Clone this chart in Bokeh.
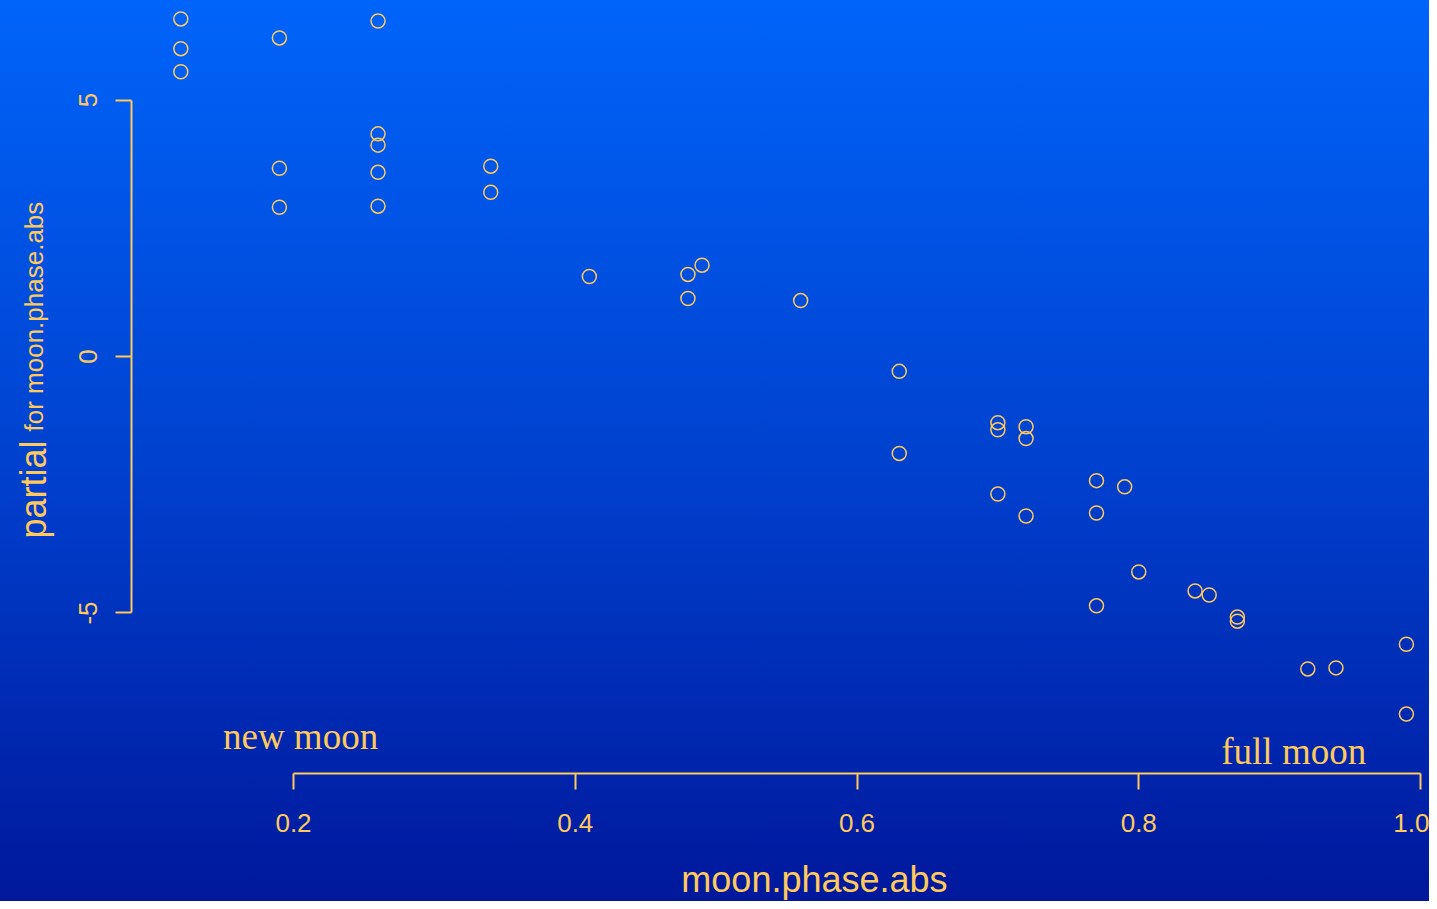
import math
from bokeh.plotting import figure
from bokeh.models import Range1d, FixedTicker, Label, InlineStyleSheet, ColumnDataSource
from bokeh.core.properties import value
from bokeh.embed import file_html
from bokeh.resources import INLINE

# ---- data ----
moon_phase_abs = [0.12, 0.12, 0.12, 0.19, 0.19, 0.19, 0.26, 0.26, 0.26, 0.26, 0.26,
                  0.34, 0.34, 0.41, 0.48, 0.48, 0.49, 0.56, 0.63, 0.63, 0.70, 0.70,
                  0.70, 0.72, 0.72, 0.72, 0.77, 0.77, 0.77, 0.79, 0.80, 0.84, 0.85,
                  0.87, 0.87, 0.92, 0.94, 0.99, 0.99]
partial = [6.58, 6.00, 5.55, 6.21, 3.67, 2.91, 6.54, 4.34, 4.12, 3.59, 2.93,
           3.71, 3.20, 1.56, 1.60, 1.13, 1.78, 1.09, -0.29, -1.89, -1.29, -1.43,
           -2.68, -1.37, -1.60, -3.11, -2.42, -3.05, -4.86, -2.54, -4.20, -4.57, -4.65,
           -5.08, -5.16, -6.09, -6.07, -5.61, -6.97]

x_ticks = [0.2, 0.4, 0.6, 0.8, 1.0]
x_tick_labels = ["0.2", "0.4", "0.6", "0.8", "1.0"]
y_ticks = [-5, 0, 5]
y_tick_labels = ["-5", "0", "5"]

note_texts = ["new moon", "full moon"]
note_x = [0.205, 0.910]
note_y = [-7.40, -7.70]

FG = "#FFC95C"
SANS = "Liberation Sans"
SERIF = "Liberation Serif"

p = figure(width=1429, height=901, output_backend="svg", toolbar_location=None,
           x_range=Range1d(-0.00799, 1.00639), y_range=Range1d(-10.624, 6.9396),
           min_border_left=0, min_border_right=0, min_border_top=0,
           min_border_bottom=0)

p.background_fill_color = None
p.border_fill_color = None
p.outline_line_color = None
p.grid.visible = False
grad = "linear-gradient(to bottom, rgb(0,100,250) 0%, rgb(0,66,208) 50%, rgb(0,24,156) 100%)"
p.styles = {"background": grad}
p.stylesheets = [InlineStyleSheet(css=":host { background: %s; }" % grad)]

src = ColumnDataSource(dict(x=moon_phase_abs, y=partial))
p.scatter("x", "y", source=src, marker="circle", size=14, fill_color=None,
          line_color=FG, line_width=1.5)

nsrc = ColumnDataSource(dict(x=note_x, y=note_y, t=note_texts))
p.text("x", "y", text="t", source=nsrc, text_color=FG, text_font=value(SERIF),
       text_font_size="37px", text_align="center", text_baseline="alphabetic")

for ax in (p.xaxis[0], p.yaxis[0]):
    ax.axis_line_color = FG
    ax.axis_line_width = 2
    ax.major_tick_line_color = FG
    ax.major_tick_line_width = 2
    ax.major_tick_out = 16
    ax.major_tick_in = 0
    ax.minor_tick_out = 0
    ax.minor_tick_in = 0
    ax.minor_tick_line_color = None
    ax.major_label_text_color = FG
    ax.major_label_text_font = SANS
    ax.major_label_text_font_size = "26px"

p.xaxis.ticker = FixedTicker(ticks=x_ticks)
p.xaxis.major_label_overrides = {t: l for t, l in zip(x_ticks, x_tick_labels)}
p.xaxis.bounds = (0.2, 1.0)
p.xaxis.fixed_location = -8.129
p.xaxis.major_label_standoff = 24

p.yaxis.ticker = FixedTicker(ticks=y_ticks)
p.yaxis.major_label_overrides = {t: l for t, l in zip(y_ticks, y_tick_labels)}
p.yaxis.bounds = (-5, 5)
p.yaxis.fixed_location = 0.0850
p.yaxis.major_label_orientation = "vertical"
p.yaxis.major_label_standoff = 18

p.add_layout(Label(x=0.5698, y=-10.20, text="moon.phase.abs", text_color=FG,
                   text_font=SANS, text_font_size="36px", text_align="center",
                   text_baseline="alphabetic"))
p.add_layout(Label(x=0.01544, y=-3.548, text="partial", text_color=FG,
                   text_font=SANS, text_font_size="36px", text_align="left",
                   text_baseline="alphabetic", angle=math.pi / 2))
p.add_layout(Label(x=0.01544, y=-1.462, text="for moon.phase.abs", text_color=FG,
                   text_font=SANS, text_font_size="26px", text_align="left",
                   text_baseline="alphabetic", angle=math.pi / 2))

open("out.html", "w").write(file_html(p, INLINE))
